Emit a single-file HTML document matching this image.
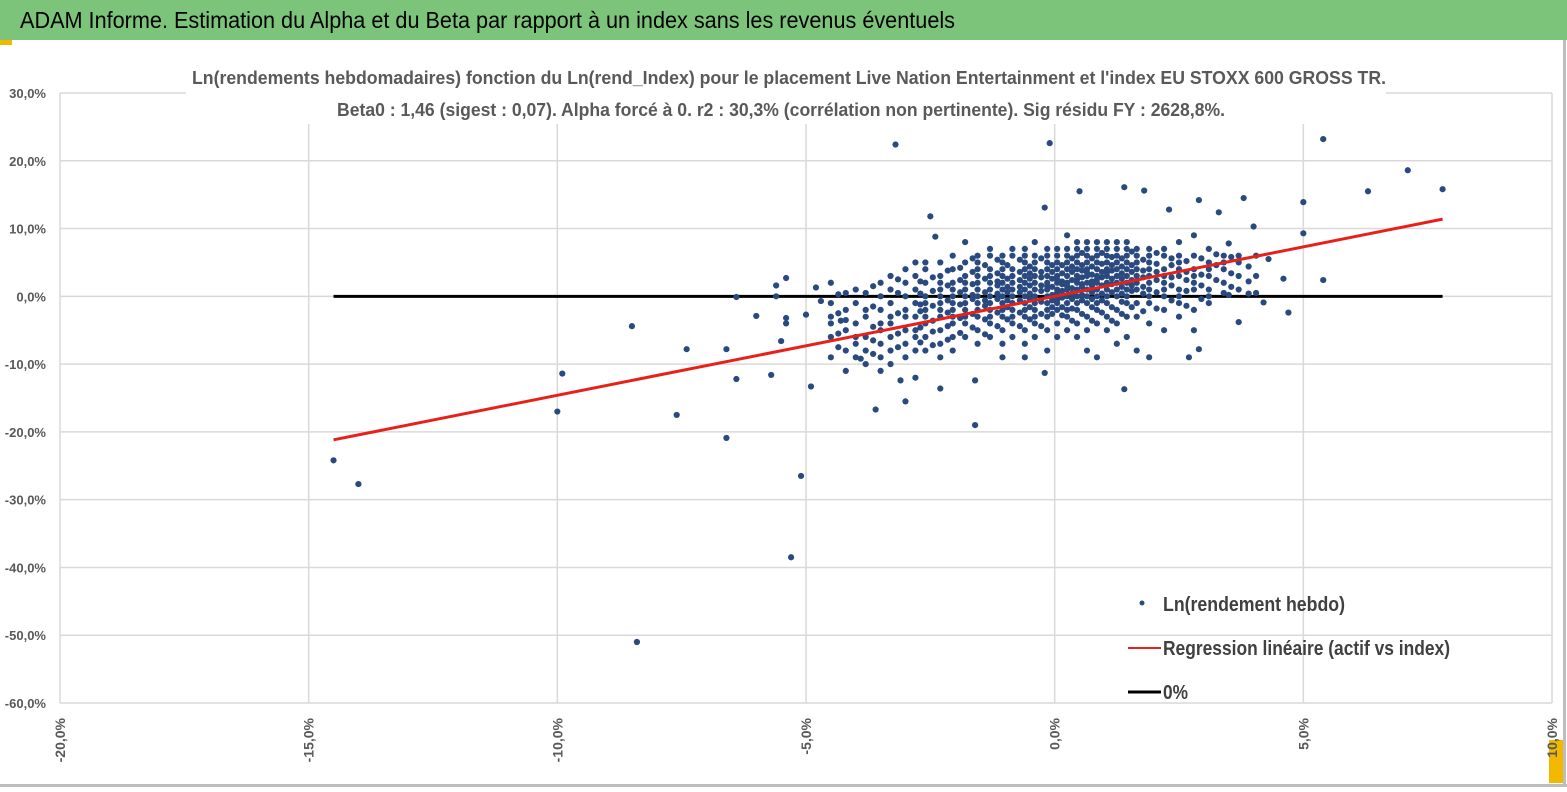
<!DOCTYPE html>
<html><head><meta charset="utf-8">
<style>
html,body{margin:0;padding:0;background:#fff;}
body{width:1567px;height:787px;overflow:hidden;font-family:"Liberation Sans",sans-serif;}
svg text{font-family:"Liberation Sans",sans-serif;}
</style></head>
<body>
<svg id="chart" width="1567" height="787" viewBox="0 0 1567 787" xmlns="http://www.w3.org/2000/svg">
  <rect x="0" y="0" width="1567" height="787" fill="#fff"/>
  <rect x="0" y="0" width="1567" height="40" fill="#7dc47b"/>
  <text x="20" y="28" font-size="23" fill="#000" textLength="935" lengthAdjust="spacingAndGlyphs">ADAM Informe. Estimation du Alpha et du Beta par rapport à un index sans les revenus éventuels</text>
  <rect x="0" y="40" width="12" height="5" fill="#f2b800"/>
  <rect x="1549" y="740" width="14" height="43" fill="#f2b800"/>
  <rect x="1563" y="40" width="3" height="745" fill="#bdbdbd"/>
  <rect x="0" y="784" width="1567" height="3" fill="#bdbdbd"/>
  <g id="grid"></g>
  <g id="yticks"></g>
  <g id="xticks"></g>
  <rect x="186" y="62" width="1200" height="62" fill="#fff"/>
  <text x="192" y="84" font-size="18" font-weight="bold" fill="#595959" textLength="1194" lengthAdjust="spacingAndGlyphs">Ln(rendements hebdomadaires) fonction du Ln(rend_Index) pour le placement Live Nation Entertainment et l'index EU STOXX 600 GROSS TR.</text>
  <text x="337" y="116" font-size="18" font-weight="bold" fill="#595959" textLength="888" lengthAdjust="spacingAndGlyphs">Beta0 : 1,46 (sigest : 0,07). Alpha forcé à 0. r2 : 30,3% (corrélation non pertinente). Sig résidu FY : 2628,8%.</text>
  <g id="zero"></g>
  <g id="dots"></g>
  <g id="reg"></g>
  <g>
    <circle cx="1142" cy="603" r="2.5" fill="#2a4a7f"/>
    <text x="1163" y="611" font-size="20" font-weight="bold" fill="#404040" textLength="182" lengthAdjust="spacingAndGlyphs">Ln(rendement hebdo)</text>
    <line x1="1128" y1="648" x2="1161" y2="648" stroke="#e8201a" stroke-width="2"/>
    <text x="1163" y="655" font-size="20" font-weight="bold" fill="#404040" textLength="287" lengthAdjust="spacingAndGlyphs">Regression linéaire (actif vs index)</text>
    <line x1="1128" y1="692" x2="1161" y2="692" stroke="#000" stroke-width="3"/>
    <text x="1163" y="699" font-size="20" font-weight="bold" fill="#404040" textLength="25" lengthAdjust="spacingAndGlyphs">0%</text>
  </g>
</svg>
<script>
const xTicks = [-20, -15, -10, -5, 0, 5, 10];
const yTicks = [30, 20, 10, 0, -10, -20, -30, -40, -50, -60];
const regStart = -14.5, regEnd = 7.8, beta = 1.46;
const outlierPairs = [
[-14.5,-24.2],[-14.0,-27.7],[-10.0,-17.0],[-9.9,-11.4],[-8.5,-4.4],[-8.4,-51.0],[-7.4,-7.8],[-7.6,-17.5],
[-6.6,-20.9],[-6.6,-7.8],[-6.4,-12.2],[-6.4,-0.1],[-6.0,-2.9],[-5.7,-11.6],[-5.6,1.6],[-5.6,0],[-5.5,-6.6],
[-5.4,2.7],[-5.4,-3.2],[-5.4,-4.0],[-5.3,-38.5],[-5.1,-26.5],[-5.0,-2.7],[-4.9,-13.3],[-4.8,1.3],[-4.7,-0.7],
[-3.2,22.4],[-0.1,22.6],[5.4,23.2],[7.1,18.6],[7.8,15.8],[6.3,15.5],[5.0,13.9],[5.0,9.3],[5.4,2.4],[4.7,-2.4],
[4.2,-0.9],[3.7,-3.8],[3.5,0.2],[3.5,7.8],[3.8,14.5],[4.0,10.3],[3.3,12.4],[2.9,14.2],[2.3,12.8],[1.8,15.6],
[1.4,16.1],[0.5,15.5],[-0.2,13.1],[-2.5,11.8],[-2.4,8.8],[-1.6,-19.0],[-3.6,-16.7],[-3.0,-15.5],[-3.1,-12.4],
[-2.3,-13.6],[1.4,-13.7],[-0.2,-11.3],[-1.6,-12.4],[2.7,-9.0],[2.9,-7.8],[4.6,2.6],[4.3,5.5],[3.9,0.4],[-3.9,-9.2],[-4.3,-3.6]
];
const cloudColumns = [
[-4.5,[-4,-6,-1,2,-9,-3]],[-4.2,[-5,-8,-2,0.5,-11,-3.5]],[-4.0,[-7,-4,-1,-9,1,-6]],[-3.8,[-3,-6,-8,-10,0.5,-2]],
[-3.5,[-2,-5,-7,-4,0,-9,2,-11]],[-3.3,[-1,-4,-6,-3,1,-8,3,-10]],[-3.0,[-5,-2,0,-7,2,4,-9,-3]],
[-2.8,[-3,-1,1,-5,-6,3,-8,5,-12]],[-2.6,[-4,-2,0,2,-6,-3,4,-8,-1,5]],[-2.3,[-1,1,-3,-5,3,-2,5,-7,0,-9,2]],
[-2.05,[-2,0,2,-4,-1,4,-6,1,-3,6,-8]],[-1.8,[0,-2,3,1,-4,5,-1,-6,2,-3,8]],[-1.55,[-1,1,3,-3,0,5,-2,2,-5,-7,4,6]],
[-1.3,[0,2,-2,4,1,-1,3,-4,-6,6,-3,7]],[-1.05,[1,-1,3,0,2,-3,5,-2,4,-5,6,-7,-9]],[-0.85,[0,2,-2,1,4,-1,3,-4,6,-3,-6,7]],
[-0.6,[1,-1,3,0,2,5,-2,4,-3,6,-5,-7,7,-9]],[-0.4,[0,2,-1,1,3,-2,4,5,-4,6,-3,-6,8]],
[-0.15,[1,-1,2,0,3,-2,4,1.5,5,-3,6,-5,7,-8]],[0.05,[0.5,2,-1,3,1,4,-2,5,-0.5,6,-4,7,2.5,-6]],
[0.25,[1,3,0,2,-1,4,5,-2,6,1.5,-3,7,-5,9]],[0.45,[2,0,3,1,4,-1,5,2.5,6,-2,-4,7,-6,8]],
[0.65,[1,3,2,0,4,-1,5,3.5,6,-3,7,-5,8,-8]],[0.85,[2,1,3,0,4,5,-1,2.5,6,-2,7,-4,8,-9]],
[1.05,[1,3,2,4,0,5,-1,6,-3,7,3.5,-5,8]],[1.25,[2,4,1,3,5,0,6,-2,7,-4,8,-7]],[1.45,[3,1,4,2,5,0,6,-1,7,-3,-6,8]],
[1.65,[2,4,3,1,5,6,-1,7,-3,-8]],[1.9,[3,1,5,2,4,-1,6,0,7,-4,-9]],[2.2,[2,4,3,6,0,1,-2,7,-5]],
[2.5,[3,1,5,4,-1,6,0,-3,8]],[2.8,[2,4,6,1,-2,3,9,-5]],[3.1,[3,5,1,7,0,-1,4]],[3.4,[4,2,6,0.5,5]],
[3.7,[5,3,1,6]],[4.05,[3,6,0.5]]
];
const cloudColumnsB = [
[-4.35,[-5.5,-2.5,-7.5,0.3]],[-3.65,[-4.5,-1.5,-6.5,-8.5,1.5]],[-3.15,[-2.5,-5.5,0.5,-7.5,2.5]],
[-2.7,[-2.2,-4.6,0.4,-6.8,2.2,-1.2]],[-2.45,[-1.4,0.8,-3.6,-5.2,2.8,-7.2]],[-2.15,[-0.6,1.6,-2.4,3.8,-4.4,-6.4]],
[-1.9,[-1.2,0.6,2.4,-3.2,4.2,-5.4]],[-1.65,[-0.4,1.8,-2.6,3.6,0.2,-4.6,5.6]],[-1.4,[0.6,-1.4,2.6,-3.4,4.6,-0.6,-5.6]],
[-1.15,[1.6,-0.4,3.4,-2.4,0.4,-4.4,5.4,2.2]],[-0.95,[0.6,2.6,-1.6,1.4,-3.4,4.6,-0.6]],[-0.7,[1.4,-0.6,2.4,0.6,-2.4,3.6,-4.4,5.4]],
[-0.5,[0.4,2.6,-1.6,1.6,-0.4,3.4,-3.4,4.4]],[-0.27,[0.8,-0.8,1.6,2.8,-2.6,3.6,-4.4,5.6]],[-0.05,[0.2,1.4,-1.6,2.6,-0.6,3.6,-2.6,4.6]],
[0.15,[1.8,-0.2,0.8,3.4,-1.6,2.2,4.6,-2.8]],[0.35,[0.4,2.4,-0.4,1.2,3.6,-1.8,4.4,5.6,-3.6]],[0.55,[1.4,0.2,2.8,-0.6,3.8,1.8,-2.6,4.6,6.4]],
[0.75,[0.6,2.2,1.6,-0.4,3.2,4.4,-1.6,5.6,-3.6]],[0.95,[1.6,0.4,2.8,3.6,-0.6,4.8,-2.4,6.4]],[1.15,[1.8,2.6,0.6,3.8,-1.6,4.6,5.8,-3.6]],
[1.35,[1.4,3.4,2.6,0.4,4.4,-0.8,5.6,-2.6]],[1.55,[2.4,1.6,3.6,0.8,4.6,-1.6,6.6]],[1.78,[2.8,1.4,3.8,0.4,5.4,-2.2]],
[2.05,[2.4,3.6,0.6,4.8,-1.8,6.4]],[2.35,[2.8,1.6,4.6,-0.6,5.6]],[2.65,[2.4,3.6,0.8,5.2,-1.4]],[2.95,[3.2,1.6,5.6,-0.4]],
[3.25,[2.4,4.6,6.2]],[3.55,[3.4,1.4,5.8]],[3.9,[4.4,2.2]]
];
const X0=60, X1=1552, Y0=93, Y1=703, xMin=-20, xMax=10, yMin=-60, yMax=30;
const sx = v => X0 + (v - xMin) / (xMax - xMin) * (X1 - X0);
const sy = v => Y1 - (v - yMin) / (yMax - yMin) * (Y1 - Y0);
const NS = "http://www.w3.org/2000/svg";
function mk(tag, attrs, parent){const e=document.createElementNS(NS,tag);for(const k in attrs)e.setAttribute(k,attrs[k]);parent.appendChild(e);return e;}
const fmt = v => v.toFixed(1).replace('.', ',') + '%';
const grid=document.getElementById('grid'), yt=document.getElementById('yticks'), xt=document.getElementById('xticks');
yTicks.forEach(v=>{
  const l=mk('line',{x1:X0,x2:X1,y1:sy(v),y2:sy(v),stroke:'#d9d9d9','stroke-width':1.5},grid);
  
  
  const t=mk('text',{x:46,y:sy(v)+5,'text-anchor':'end','font-size':13,'font-weight':'bold',fill:'#595959'},yt);
  t.textContent=fmt(v);
  
  
});
xTicks.forEach(v=>{
  const l=mk('line',{x1:sx(v),x2:sx(v),y1:Y0,y2:Y1,stroke:'#d9d9d9','stroke-width':1.5},grid);
  
  
  const t=mk('text',{x:0,y:0,'text-anchor':'end','font-size':14,'font-weight':'bold',fill:'#595959',transform:`translate(${sx(v)+5},718) rotate(-90)`},xt);
  t.textContent=fmt(v);
  
  
});
const z=mk('line',{x1:sx(regStart),x2:sx(regEnd),y1:sy(0),y2:sy(0),stroke:'#000','stroke-width':3},document.getElementById('zero'));


const dots=document.getElementById('dots');
function dot(x,y){
  const c=mk('circle',{cx:sx(x),cy:sy(y),r:3.1,fill:'#2a4a7f'},dots);
  
  
}
outlierPairs.forEach(p=>dot(p[0],p[1]));
cloudColumns.forEach(col=>col[1].forEach(y=>dot(col[0],y)));
cloudColumnsB.forEach(col=>col[1].forEach(y=>dot(col[0],y)));
const r=mk('line',{x1:sx(regStart),x2:sx(regEnd),y1:sy(regStart*beta),y2:sy(regEnd*beta),stroke:'#e8201a','stroke-width':3},document.getElementById('reg'));


</script>
</body></html>
